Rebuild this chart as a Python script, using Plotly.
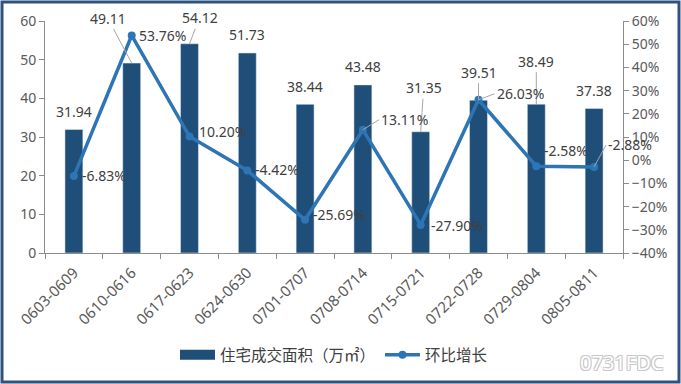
import plotly.graph_objects as go

categories = ["0603-0609", "0610-0616", "0617-0623", "0624-0630", "0701-0707",
              "0708-0714", "0715-0721", "0722-0728", "0729-0804", "0805-0811"]
area = [31.94, 49.11, 54.12, 51.73, 38.44, 43.48, 31.35, 39.51, 38.49, 37.38]
growth = [-6.83, 53.76, 10.20, -4.42, -25.69, 13.11, -27.90, 26.03, -2.58, -2.88]
bar_name = "住宅成交面积（万㎡）"
line_name = "环比增长"

FONT = "Noto Sans, Noto Sans CJK SC, sans-serif"
TXT = "#404040"
BAR = "#1F4E79"
LINE = "#2E75B6"
AX = "#8C8C8C"

fig = go.Figure()
fig.add_trace(go.Bar(x=categories, y=area, name=bar_name, marker_color=BAR,
                     width=0.31, yaxis="y", showlegend=False))
# legend proxy for the bars (wide rectangular swatch)
fig.add_trace(go.Scatter(x=[None], y=[None], name=bar_name, mode="lines",
                         line=dict(color=BAR, width=10), yaxis="y"))
fig.add_trace(go.Scatter(x=categories, y=growth, name=line_name, yaxis="y2",
                         mode="lines+markers", line=dict(color=LINE, width=3.5),
                         marker=dict(size=8, color=LINE)))

bar_lab = {1: (-24, -45), 2: (10, -26), 6: (3, -44), 7: (0, -28), 8: (0, -43)}
ann = []
for i, (c, v) in enumerate(zip(categories, area)):
    if i in bar_lab:
        ax, ay = bar_lab[i]
        ann.append(dict(x=c, y=v, xref="x", yref="y", text=f"{v:.2f}", showarrow=True,
                        arrowhead=0, arrowwidth=1, arrowcolor="#A6A6A6", ax=ax, ay=ay,
                        font=dict(size=14, color=TXT, family=FONT)))
    else:
        ann.append(dict(x=c, y=v, xref="x", yref="y", text=f"{v:.2f}", showarrow=False,
                        yanchor="middle", yshift=18,
                        font=dict(size=14, color=TXT, family=FONT)))

line_arrow = {5: (16, -10), 7: (16, -6), 9: (12, -22)}
line_shift = {0: (6, 1), 1: (5, 0), 2: (7, 5), 3: (6, 1), 4: (6, 5), 6: (8, -1), 8: (6, 16)}
for i, (c, v) in enumerate(zip(categories, growth)):
    t = f"{v:.2f}%"
    if i in line_arrow:
        ax, ay = line_arrow[i]
        ann.append(dict(x=c, y=v, xref="x", yref="y2", text=t, showarrow=True,
                        arrowhead=0, arrowwidth=1, arrowcolor="#A6A6A6", ax=ax, ay=ay,
                        xanchor="left", font=dict(size=14, color=TXT, family=FONT)))
    else:
        xs, ys = line_shift[i]
        ann.append(dict(x=c, y=v, xref="x", yref="y2", text=t, showarrow=False,
                        xanchor="left", yanchor="middle", xshift=xs, yshift=ys,
                        font=dict(size=14, color=TXT, family=FONT)))

wm_shadow = ("-1px -1px 0 #C8C8C8, 1px -1px 0 #C8C8C8, "
             "-1px 1px 0 #C8C8C8, 1px 1px 0 #C8C8C8")
ann.append(dict(x=1.075, y=-0.47, xref="paper", yref="paper", text="0731FDC",
                showarrow=False, xanchor="right", yanchor="middle",
                font=dict(size=20, color="#FFFFFF", family=FONT, shadow=wm_shadow)))

W, H = 681, 384
L, R, T, B = 45, 58, 21, 131
pw, ph = W - L - R, H - T - B
shapes = [dict(type="rect", xref="paper", yref="paper",
               x0=(2 - L) / pw, x1=(W - 2 - L) / pw,
               y0=(H - B - (H - 2)) / ph, y1=(H - B - 2) / ph,
               line=dict(color="#2F5283", width=3), fillcolor="rgba(0,0,0,0)", layer="below")]

fig.update_layout(
    width=W, height=H, margin=dict(l=L, r=R, t=T, b=B),
    paper_bgcolor="white", plot_bgcolor="white",
    font=dict(family=FONT, color="#595959", size=12),
    showlegend=True,
    legend=dict(orientation="h", x=0.5, xanchor="center", y=-0.44, yanchor="middle",
                font=dict(size=15.5, color=TXT, family=FONT), itemwidth=35),
    xaxis=dict(type="category", range=[-0.5, len(categories) - 0.5], showline=True,
               linecolor=AX, linewidth=1,
               ticks="outside", tickson="boundaries", ticklen=5, tickcolor=AX,
               tickangle=-45, tickfont=dict(size=15, color="#595959"),
               ticklabelstandoff=4, showgrid=False),
    yaxis=dict(range=[0, 60], dtick=10, showline=True, linecolor=AX, ticks="outside",
               ticklen=5, tickcolor=AX, showgrid=False, zeroline=False,
               tickfont=dict(size=14, color="#595959")),
    yaxis2=dict(range=[-40, 60], dtick=10, overlaying="y", side="right", showline=True,
                linecolor=AX, ticks="outside", ticklen=5, tickcolor=AX, ticksuffix="%",
                showgrid=False, zeroline=False, tickfont=dict(size=14, color="#595959")),
    annotations=ann, shapes=shapes, bargap=0.69,
)

fig.write_html("out.html", config={"displayModeBar": False},
               post_script="document.body.style.margin='0';document.body.style.overflow='hidden';")
